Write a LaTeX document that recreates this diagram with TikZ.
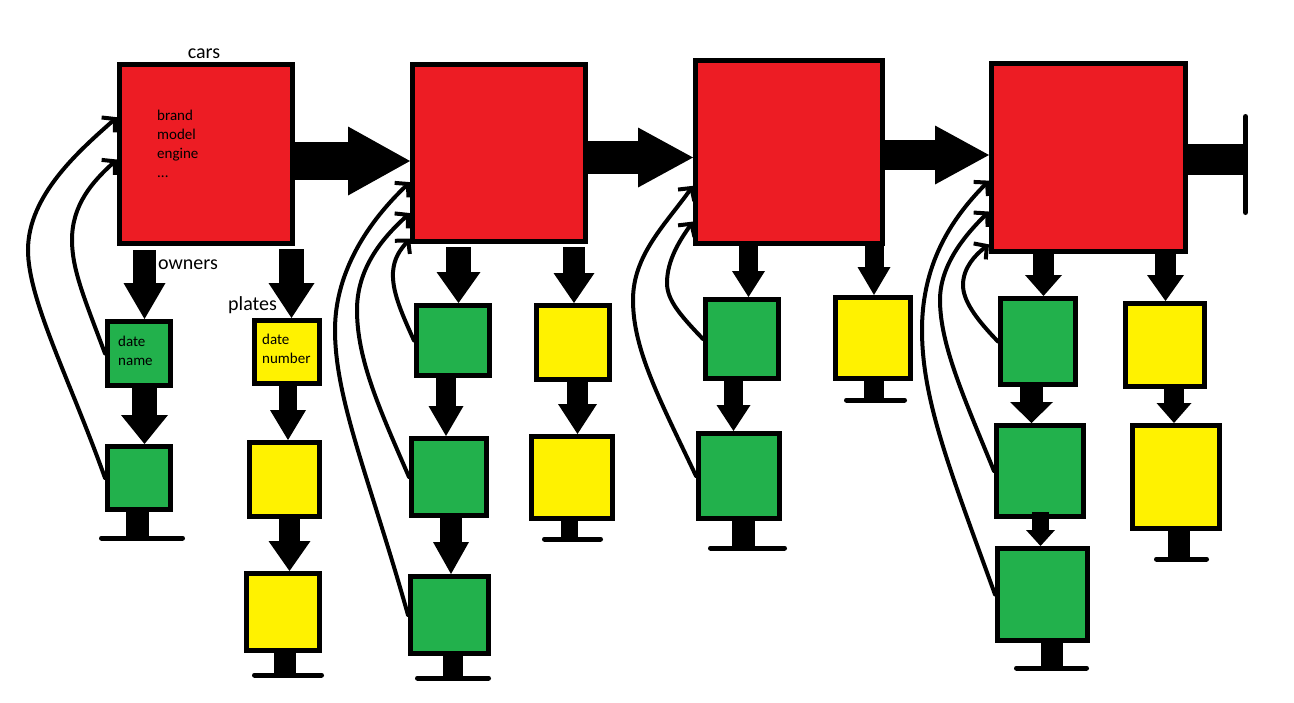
\documentclass[tikz,border=0pt]{standalone}
\usepackage{fontspec}
\setmainfont{Carlito}
\usetikzlibrary{arrows.meta,calc}
\definecolor{pred}{HTML}{ED1C24}
\definecolor{pgreen}{HTML}{22B14C}
\definecolor{pyellow}{HTML}{FFF200}
\begin{document}
\begin{tikzpicture}[x=1pt,y=-1pt,
  box/.style={draw=black, line width=5pt, inner sep=0pt, line join=miter},
  redbox/.style={box, fill=pred},
  greenbox/.style={box, fill=pgreen},
  yellowbox/.style={box, fill=pyellow},
  blockarr/.style n args={3}{line width=#1pt, -{Triangle[length=#3pt,width=#2pt,line width=0pt]}},
  stem/.style={line width=#1pt},
  stopbar/.style={line width=5pt, line cap=round},
  backlink/.style={line width=4pt, line cap=round, -{Straight Barb[length=9pt,width=20pt]}},
  lbl/.style={font=\fontsize{20pt}{24pt}\selectfont, inner sep=0pt},
  txt/.style={font=\fontsize{15pt}{19pt}\selectfont, inner sep=0pt, anchor=base west}
]
\useasboundingbox[fill=white] (0,0) rectangle (1294,702);

% ---------- red car boxes
\node[redbox, minimum width=173pt, minimum height=179pt] (r1) at (206,154) {};
\node[redbox, minimum width=173pt, minimum height=177pt] (r2) at (499,153) {};
\node[redbox, minimum width=187pt, minimum height=183pt] (r3) at (789,152) {};
\node[redbox, minimum width=194pt, minimum height=188pt] (r4) at (1088.5,157.5) {};

% ---------- column 1 (owners / plates of car 1)
\node[greenbox, minimum width=63pt, minimum height=64pt] (g1a) at (139,353.5) {};
\node[greenbox, minimum width=63pt, minimum height=63pt] (g1b) at (139,478) {};
\node[yellowbox, minimum width=65pt, minimum height=63pt] (y1a) at (287,352) {};
\node[yellowbox, minimum width=70pt, minimum height=74pt] (y1b) at (284.5,479.5) {};
\node[yellowbox, minimum width=73pt, minimum height=77pt] (y1c) at (283,612) {};

% ---------- car 2
\node[greenbox, minimum width=73pt, minimum height=70pt] (g2a) at (453,340.5) {};
\node[greenbox, minimum width=75pt, minimum height=77pt] (g2b) at (449,477) {};
\node[greenbox, minimum width=78pt, minimum height=77pt] (g2c) at (449.5,615) {};
\node[yellowbox, minimum width=73pt, minimum height=74pt] (y2a) at (573,342.5) {};
\node[yellowbox, minimum width=81pt, minimum height=82pt] (y2b) at (572,477.5) {};

% ---------- car 3
\node[greenbox, minimum width=73pt, minimum height=79pt] (g3a) at (742,339) {};
\node[greenbox, minimum width=81pt, minimum height=85pt] (g3b) at (739,476) {};
\node[yellowbox, minimum width=75pt, minimum height=81pt] (y3a) at (873,338) {};

% ---------- car 4
\node[greenbox, minimum width=75pt, minimum height=86pt] (g4a) at (1038,341.5) {};
\node[greenbox, minimum width=87pt, minimum height=91pt] (g4b) at (1040,471) {};
\node[greenbox, minimum width=90pt, minimum height=92pt] (g4c) at (1042.5,594.5) {};
\node[yellowbox, minimum width=79pt, minimum height=83pt] (y4a) at (1165,345) {};
\node[yellowbox, minimum width=87pt, minimum height=103pt] (y4b) at (1176,477) {};

% ---------- horizontal block arrows
\draw[blockarr={38}{69}{62}] (r1.east |- 0,161) -- (r2.west |- 0,161);
\draw[blockarr={33}{60}{55}] (r2.east |- 0,157.5) -- (r3.west |- 0,157.5);
\draw[blockarr={30}{59}{54}] (r3.east |- 0,155) -- (r4.west |- 0,155);
\coordinate (endpt) at (1243,159.5);
\draw[stem=31] (r4.east |- endpt) -- (endpt);
\draw[stopbar] (1245.5,116.5) -- (1245.5,212.5);

% ---------- vertical block arrows
\draw[blockarr={23}{42}{36}, shorten <=4pt] (r1.south -| 144.5,0) -- (g1a.north -| 144.5,0);
\draw[blockarr={25}{47}{29}] (g1a.south -| 144.5,0) -- (g1b.north -| 144.5,0);
\draw[blockarr={25}{46}{35}, shorten <=3pt] (r1.south -| 291.5,0) -- (y1a.north -| 291.5,0);
\draw[blockarr={18}{36}{30}] (y1a.south -| 288,0) -- (y1b.north -| 288,0);
\draw[blockarr={21}{42}{30}] (y1b.south -| 289.5,0) -- (y1c.north -| 289.5,0);

\draw[blockarr={25}{44}{31}, shorten <=3pt] (r2.south -| 458.5,0) -- (g2a.north -| 458.5,0);
\draw[blockarr={20}{35}{30}] (g2a.south -| 446,0) -- (g2b.north -| 446,0);
\draw[blockarr={22}{36}{32}, shorten <=-5pt] (g2b.south -| 451,0) -- (g2c.north -| 451,0);
\draw[blockarr={22}{41}{30}, shorten <=3pt] (r2.south -| 574,0) -- (y2a.north -| 574,0);
\draw[blockarr={21}{39}{30}] (y2a.south -| 577.5,0) -- (y2b.north -| 577.5,0);

\draw[blockarr={19}{33}{26}] (r3.south -| 748.5,0) -- (g3a.north -| 748.5,0);
\draw[blockarr={19}{34}{26}] (g3a.south -| 733.5,0) -- (g3b.north -| 733.5,0);
\draw[blockarr={19}{33}{28}] (r3.south -| 874,0) -- (y3a.north -| 874,0);

\draw[blockarr={21}{37}{21}] (r4.south -| 1043.5,0) -- (g4a.north -| 1043.5,0);
\draw[blockarr={23}{43}{21}] (g4a.south -| 1031.5,0) -- (g4b.north -| 1031.5,0);
\draw[blockarr={17}{29}{16}, shorten <=-7pt] (g4b.south -| 1040.5,0) -- (g4c.north -| 1040.5,0);
\draw[blockarr={21}{37}{26}] (r4.south -| 1165.5,0) -- (y4a.north -| 1165.5,0);
\draw[blockarr={20}{35}{20}] (y4a.south -| 1174,0) -- (y4b.north -| 1174,0);

% ---------- list ends (stops)
\draw[stem=23] (g1b.south -| 137.5,0) -- (137.5,538);
\draw[stopbar] (101.5,538) -- (182.5,538);
\draw[stem=22] (y1c.south -| 285,0) -- (285,675);
\draw[stopbar] (254.5,675) -- (321.5,675);
\draw[stem=20] (g2c.south -| 453,0) -- (453,678);
\draw[stopbar] (417.5,678) -- (488.5,678);
\draw[stem=17] (y2b.south -| 569.5,0) -- (569.5,539);
\draw[stopbar] (544.5,539) -- (600.5,539);
\draw[stem=23] (g3b.south -| 743.5,0) -- (743.5,548);
\draw[stopbar] (710.5,548) -- (784.5,548);
\draw[stem=20] (y3a.south -| 874,0) -- (874,400);
\draw[stopbar] (846.5,400) -- (904.5,400);
\draw[stem=22] (g4c.south -| 1052,0) -- (1052,668);
\draw[stopbar] (1016.5,668) -- (1086.5,668);
\draw[stem=22] (y4b.south -| 1179,0) -- (1179,559);
\draw[stopbar] (1156.5,559) -- (1206.5,559);

% ---------- back links to cars
\coordinate (r1a) at ($(r1.north west)!0.30!(r1.south west)$);
\coordinate (r1b) at ($(r1.north west)!0.53!(r1.south west)$);
\draw[backlink] (g1b.west) .. controls (70,380) and (28,300) .. (28,250)
  .. controls (28,195) and (80,150) .. (r1a);
\draw[backlink] (g1a.west) .. controls (85,300) and (72,270) .. (72,240)
  .. controls (72,205) and (92,182) .. (r1b);

\coordinate (r2a) at ($(r2.north west)!0.66!(r2.south west)$);
\coordinate (r2b) at ($(r2.north west)!0.83!(r2.south west)$);
\coordinate (r2c) at ($(r2.north west)!0.97!(r2.south west)$);
\draw[backlink] (g2c.west) .. controls (370,480) and (335,400) .. (335,330)
  .. controls (335,270) and (370,220) .. (r2a);
\draw[backlink] (g2b.west) .. controls (380,410) and (357,360) .. (357,310)
  .. controls (357,270) and (380,240) .. (r2b);
\draw[backlink] (g2a.west) .. controls (400,310) and (392,290) .. (393,272)
  .. controls (394,258) and (400,250) .. (r2c);

\coordinate (r3a) at ($(r3.north west)!0.68!(r3.south west)$);
\coordinate (r3b) at ($(r3.north west)!0.87!(r3.south west)$);
\draw[backlink] (g3b.west) .. controls (660,400) and (633,350) .. (633,300)
  .. controls (633,255) and (665,225) .. (r3a);
\draw[backlink] (g3a.west) .. controls (680,315) and (667,300) .. (667,283)
  .. controls (667,260) and (680,240) .. (r3b);

\coordinate (r4a) at ($(r4.north west)!0.62!(r4.south west)$);
\coordinate (r4b) at ($(r4.north west)!0.78!(r4.south west)$);
\coordinate (r4c) at ($(r4.north west)!0.95!(r4.south west)$);
\draw[backlink] (g4c.west) .. controls (950,470) and (922,400) .. (922,330)
  .. controls (922,260) and (955,215) .. (r4a);
\draw[backlink] (g4b.west) .. controls (965,400) and (940,345) .. (940,300)
  .. controls (940,265) and (965,235) .. (r4b);
\draw[backlink] (g4a.west) .. controls (975,318) and (963,300) .. (963,285)
  .. controls (963,268) and (975,255) .. (r4c);

% ---------- texts
\node[lbl, anchor=base] (cars) at (204,58) {cars};
\node[lbl, anchor=base west] (owners) at (158,269) {owners};
\node[lbl, anchor=base west] (plates) at (228,310) {plates};
\node[txt] (t1) at (157,120) {brand};
\node[txt] (t2) at (157,139) {model};
\node[txt] (t3) at (157,158) {engine};
\node[txt] (t4) at (157,177) {...};
\node[txt] (t5) at (118,346) {date};
\node[txt] (t6) at (118,365) {name};
\node[txt] (t7) at (262,344) {date};
\node[txt] (t8) at (262,363) {number};
\end{tikzpicture}
\end{document}
